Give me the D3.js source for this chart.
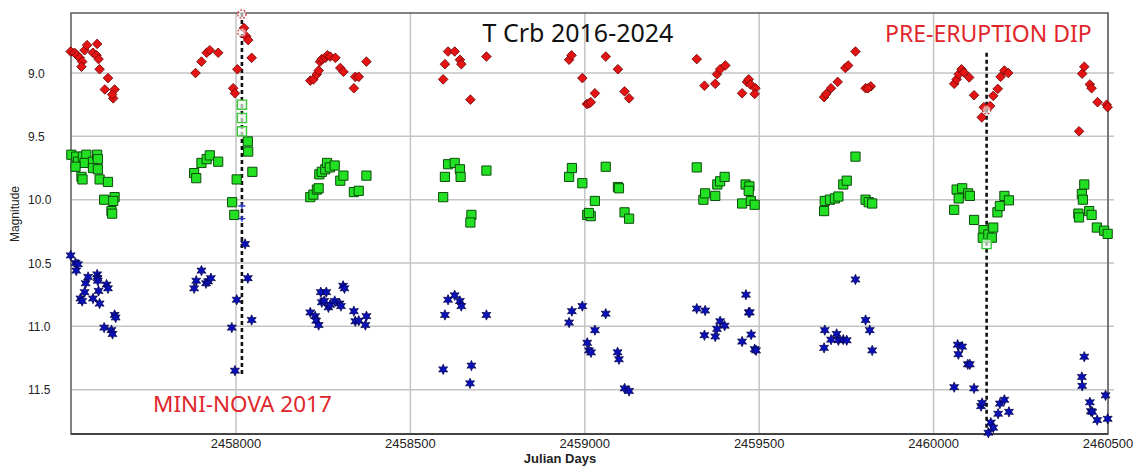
<!DOCTYPE html>
<html>
<head>
<meta charset="utf-8">
<script src="https://cdn.jsdelivr.net/npm/d3@7"></script>
<style>
  html, body { margin: 0; padding: 0; background: #fff; }
  svg { display: block; }
</style>
</head>
<body>
<svg id="chart" width="1135" height="466"></svg>
<script>
// T CrB light curves 2016-2024: [Julian Day, magnitude]
const bandR = [
  [2457526,8.83],[2457537,8.84],[2457544,8.86],[2457552,8.88],[2457559,8.91],[2457566,8.82],[2457573,8.78],[2457557,8.95],[2457590,8.84],[2457602,8.77],[2457600,8.86],[2457606,8.89],[2457609,8.97],[2457633,9.04],[2457624,9.13],[2457648,9.20],[2457652,9.13],[2457645,9.17],
  [2457884,9.00],[2457901,8.91],[2457916,8.84],[2457925,8.82],[2457949,8.84],[2457992,9.12],[2457997,9.16],[2458004,8.97],[2458023,8.645],[2458029,8.71],[2458035,8.74],[2458045,8.88],
  [2458213,9.06],[2458222,9.05],[2458232,9.01],[2458237,8.98],[2458241,8.91],[2458246,8.89],[2458256,8.88],[2458262,8.86],[2458270,8.87],[2458285,8.88],[2458299,8.96],[2458308,8.99],[2458342,9.03],[2458352,9.03],[2458338,9.12],[2458374,8.91],
  [2458594,9.05],[2458599,8.93],[2458608,8.83],[2458627,8.83],[2458642,8.895],[2458646,8.93],[2458672,9.21],[2458718,8.87],
  [2458955,8.895],[2458962,8.86],[2458993,9.04],[2459006,9.245],[2459012,9.24],[2459017,9.23],[2459029,9.16],[2459060,8.87],[2459095,8.97],[2459114,9.145],[2459127,9.20],
  [2459321,8.89],[2459343,9.10],[2459374,9.085],[2459379,9.01],[2459388,8.97],[2459403,8.94],[2459451,9.16],[2459465,9.07],[2459470,9.05],[2459475,9.09],[2459489,9.12],[2459487,9.165],
  [2459686,9.19],[2459692,9.165],[2459706,9.12],[2459725,9.07],[2459747,8.96],[2459755,8.94],[2459776,8.83],[2459805,9.12],[2459820,9.105],[2459812,9.12],
  [2460059,9.085],[2460066,9.05],[2460072,9.01],[2460080,8.97],[2460087,8.995],[2460102,9.035],[2460116,9.175],[2460138,9.35],[2460144,9.27],[2460162,9.26],[2460171,9.18],[2460184,9.125],[2460192,9.03],[2460203,8.98],[2460214,9.00],
  [2460417,9.46],[2460426,9.005],[2460432,8.95],[2460448,9.09],[2460453,9.12],[2460470,9.23],[2460496,9.25],[2460499,9.27]
];
const bandV = [
  [2457528,9.645],[2457542,9.66],[2457547,9.70],[2457561,9.66],[2457571,9.645],[2457566,9.71],[2457540,9.74],[2457557,9.82],[2457560,9.84],[2457590,9.70],[2457602,9.645],[2457604,9.68],[2457590,9.75],[2457604,9.76],[2457609,9.84],[2457633,9.86],[2457622,10.00],[2457652,9.98],[2457648,10.01],[2457643,10.09],[2457645,10.11],
  [2457880,9.79],[2457886,9.83],[2457901,9.71],[2457916,9.68],[2457925,9.65],[2457949,9.70],[2458002,9.84],[2457989,10.02],[2457995,10.12],[2458034,9.54],[2458035,9.62],[2458047,9.78],
  [2458213,9.98],[2458222,9.96],[2458232,9.92],[2458237,9.91],[2458239,9.80],[2458246,9.78],[2458256,9.76],[2458261,9.71],[2458269,9.745],[2458283,9.73],[2458299,9.85],[2458308,9.81],[2458338,9.94],[2458352,9.93],[2458374,9.81],
  [2458594,9.98],[2458599,9.82],[2458608,9.72],[2458627,9.71],[2458642,9.76],[2458644,9.82],[2458675,10.12],[2458672,10.18],[2458718,9.77],
  [2458955,9.82],[2458963,9.75],[2458993,9.87],[2459029,10.01],[2459007,10.12],[2459017,10.13],[2459012,10.105],[2459060,9.74],[2459095,9.90],[2459098,9.91],[2459114,10.10],[2459127,10.15],
  [2459321,9.745],[2459340,10.00],[2459345,9.95],[2459374,9.97],[2459380,9.88],[2459388,9.855],[2459401,9.82],[2459451,10.03],[2459461,9.88],[2459472,9.895],[2459470,9.93],[2459476,10.01],[2459487,10.04],
  [2459686,10.09],[2459688,10.01],[2459703,10.00],[2459717,9.99],[2459727,9.975],[2459741,9.88],[2459751,9.85],[2459776,9.66],[2459805,10.00],[2459814,10.02],[2459824,10.03],
  [2460059,10.08],[2460066,9.92],[2460072,9.99],[2460082,9.91],[2460099,9.95],[2460104,9.97],[2460116,10.16],[2460143,10.24],[2460141,10.30],[2460157,10.275],[2460167,10.30],[2460171,10.22],[2460183,10.10],[2460190,10.05],[2460203,9.97],[2460216,10.005],
  [2460415,10.11],[2460417,10.14],[2460425,9.955],[2460428,10.00],[2460432,9.88],[2460446,10.09],[2460453,10.12],[2460468,10.22],[2460489,10.245],[2460499,10.27]
];
const bandB = [
  [2457526,10.44],[2457540,10.50],[2457547,10.51],[2457542,10.56],[2457554,10.78],[2457559,10.80],[2457566,10.73],[2457569,10.66],[2457576,10.61],[2457590,10.78],[2457602,10.59],[2457603,10.62],[2457604,10.64],[2457606,10.72],[2457609,10.82],[2457622,11.01],[2457629,10.67],[2457633,10.70],[2457643,11.03],[2457646,11.06],[2457652,10.91],[2457655,10.93],
  [2457880,10.70],[2457886,10.64],[2457901,10.56],[2457914,10.66],[2457920,10.645],[2457928,10.62],[2457988,11.01],[2458002,10.79],[2457997,11.35],[2458034,10.62],[2458045,10.95],[2458026,10.35],
  [2458213,10.89],[2458227,10.92],[2458230,10.955],[2458237,10.99],[2458243,10.73],[2458259,10.73],[2458246,10.81],[2458253,10.80],[2458265,10.85],[2458270,10.83],[2458283,10.80],[2458297,10.82],[2458301,10.84],[2458307,10.68],[2458311,10.70],[2458338,10.88],[2458342,10.96],[2458352,10.955],[2458374,10.92],[2458371,10.99],
  [2458594,11.34],[2458599,10.91],[2458608,10.79],[2458627,10.755],[2458642,10.80],[2458646,10.84],[2458675,11.31],[2458671,11.45],[2458718,10.91],
  [2458955,10.97],[2458963,10.88],[2458993,10.84],[2459029,11.03],[2459007,11.13],[2459012,11.19],[2459018,11.205],[2459060,10.90],[2459094,11.205],[2459098,11.26],[2459114,11.49],[2459127,11.51],
  [2459321,10.86],[2459345,10.875],[2459343,11.07],[2459374,11.08],[2459379,11.02],[2459388,10.96],[2459401,10.995],[2459451,11.12],[2459462,10.75],[2459470,10.89],[2459473,10.89],[2459477,11.065],[2459487,11.18],[2459491,11.19],
  [2459688,11.03],[2459686,11.17],[2459706,11.105],[2459722,11.06],[2459727,11.11],[2459741,11.105],[2459751,11.11],[2459776,10.63],[2459805,10.95],[2459817,11.03],[2459824,11.19],
  [2460059,11.48],[2460069,11.145],[2460082,11.16],[2460071,11.22],[2460098,11.30],[2460104,11.30],[2460116,11.49],[2460136,11.63],[2460139,11.605],[2460157,11.84],[2460164,11.76],[2460171,11.80],[2460185,11.69],[2460190,11.61],[2460203,11.58],[2460216,11.675],
  [2460432,11.24],[2460425,11.40],[2460426,11.47],[2460448,11.60],[2460451,11.67],[2460455,11.675],[2460469,11.74],[2460493,11.545],[2460499,11.73]
];
// uncertain estimates, drawn as open markers
const openR = [[2458017,8.535],[2458017,8.68],[2460152,9.29]];
const openV = [[2458017,9.25],[2458017,9.355],[2458017,9.46],[2460152,10.35]];
const openB = [[2458017,10.05],[2458017,10.15]];

// event markers: mini-nova 2017 and the pre-eruption dip
const eventJD = [2458017, 2460152];
const eventTop = [8.526, 8.84];
const eventBottom = [11.38, 11.85];

const xTicks = [2458000, 2458500, 2459000, 2459500, 2460000, 2460500];
const yTicks = [9.0, 9.5, 10.0, 10.5, 11.0, 11.5];

const svg = d3.select("#chart");
const plotL = 71, plotR = 1108, plotT = 13, plotB = 434;

const x = d3.scaleLinear().domain([2457527, 2460500]).range([plotL, plotR]);
const y = d3.scaleLinear().domain([8.526, 11.85]).range([plotT, plotB]);

// grid
const grid = svg.append("g");
grid.selectAll("line.gx").data(xTicks).join("line")
  .attr("x1", d => x(d)).attr("x2", d => x(d))
  .attr("y1", plotT).attr("y2", plotB)
  .attr("stroke", "#c4c4c4").attr("stroke-width", 1.5);
grid.selectAll("line.gy").data(yTicks).join("line")
  .attr("x1", plotL).attr("x2", plotR + 6)
  .attr("y1", d => y(d)).attr("y2", d => y(d))
  .attr("stroke", "#c4c4c4").attr("stroke-width", 1.5);

// frame
svg.append("rect")
  .attr("x", plotL).attr("y", plotT)
  .attr("width", plotR - plotL).attr("height", plotB - plotT)
  .attr("fill", "none").attr("stroke", "#5a5a5a").attr("stroke-width", 1.5);
svg.append("line")
  .attr("x1", plotL).attr("x2", plotR).attr("y1", plotB).attr("y2", plotB)
  .attr("stroke", "#444").attr("stroke-width", 2.2);

// tick labels
svg.append("g").selectAll("text").data(yTicks).join("text")
  .attr("x", 28).attr("y", d => y(d) + 4.5)
  .attr("font-family", "Liberation Sans, Arial, sans-serif")
  .attr("font-size", 12).attr("fill", "#222")
  .text(d => d.toFixed(1));
svg.append("g").selectAll("text").data(xTicks).join("text")
  .attr("x", d => x(d)).attr("y", 448)
  .attr("text-anchor", "middle")
  .attr("font-family", "Liberation Sans, Arial, sans-serif")
  .attr("font-size", 13).attr("fill", "#222")
  .text(d => d);

// axis titles
svg.append("text")
  .attr("transform", "translate(19,214) rotate(-90)")
  .attr("text-anchor", "middle")
  .attr("font-family", "Liberation Sans, Arial, sans-serif")
  .attr("font-size", 12).attr("fill", "#222")
  .text("Magnitude");
svg.append("text")
  .attr("x", 560).attr("y", 463)
  .attr("text-anchor", "middle")
  .attr("font-family", "Liberation Sans, Arial, sans-serif")
  .attr("font-size", 13).attr("font-weight", "bold").attr("fill", "#222")
  .text("Julian Days");

// event lines
svg.append("g").selectAll("line").data(eventJD).join("line")
  .attr("x1", d => x(d)).attr("x2", d => x(d))
  .attr("y1", (d, i) => y(eventTop[i])).attr("y2", (d, i) => y(eventBottom[i]))
  .attr("stroke", "#111").attr("stroke-width", 2.6)
  .attr("stroke-dasharray", "4,3");

// marker shapes
const diamond = "M0,-4.8L4.8,0L0,4.8L-4.8,0Z";
const square = "M-4.6,-4.6H4.6V4.6H-4.6Z";
function starPath(ro, ri) {
  const pts = [];
  for (let k = 0; k < 12; k++) {
    const a = k * Math.PI / 6 - Math.PI / 2;
    const r = k % 2 === 0 ? ro : ri;
    pts.push([r * Math.cos(a), r * Math.sin(a)]);
  }
  return "M" + pts.map(p => p[0].toFixed(2) + "," + p[1].toFixed(2)).join("L") + "Z";
}
const star = starPath(5.2, 2.6);

const marks = svg.append("g");
marks.selectAll("path.b").data(bandB).join("path")
  .attr("class", "b").attr("d", star)
  .attr("transform", d => `translate(${x(d[0])},${y(d[1])})`)
  .attr("fill", "#0a10b8").attr("stroke", "#000040").attr("stroke-width", 0.7);
marks.selectAll("path.v").data(bandV).join("path")
  .attr("class", "v").attr("d", square)
  .attr("transform", d => `translate(${x(d[0])},${y(d[1])})`)
  .attr("fill", "#22e022").attr("stroke", "#0b4d0b").attr("stroke-width", 1);
marks.selectAll("path.r").data(bandR).join("path")
  .attr("class", "r").attr("d", diamond)
  .attr("transform", d => `translate(${x(d[0])},${y(d[1])})`)
  .attr("fill", "#e41414").attr("stroke", "#6a0000").attr("stroke-width", 0.8);

// open markers
marks.selectAll("circle.or").data(openR).join("circle")
  .attr("class", "or")
  .attr("cx", d => x(d[0])).attr("cy", d => y(d[1])).attr("r", 4.2)
  .attr("fill", "rgba(255,255,255,0.6)").attr("stroke", "#d03030")
  .attr("stroke-width", 1.2).attr("stroke-dasharray", "2,1.5");
marks.selectAll("path.ov").data(openV).join("path")
  .attr("class", "ov").attr("d", square)
  .attr("transform", d => `translate(${x(d[0])},${y(d[1])})`)
  .attr("fill", "rgba(235,250,235,0.7)").attr("stroke", "#3cc83c").attr("stroke-width", 1.4);
marks.selectAll("path.ob").data(openB).join("path")
  .attr("class", "ob").attr("d", "M-3.5,0H3.5M0,-3V3")
  .attr("transform", d => `translate(${x(d[0])},${y(d[1])})`)
  .attr("fill", "none").attr("stroke", "#2a3ad0").attr("stroke-width", 1.3);

// annotations
svg.append("text")
  .attr("x", 578).attr("y", 42).attr("text-anchor", "middle")
  .attr("font-family", "Noto Sans, Open Sans, sans-serif")
  .attr("font-size", 25).attr("fill", "#111")
  .text("T Crb 2016-2024");
svg.append("text")
  .attr("x", 885).attr("y", 41.5)
  .attr("font-family", "Noto Sans, Open Sans, sans-serif")
  .attr("font-size", 23).attr("fill", "#e0262a")
  .text("PRE-ERUPTION DIP");
svg.append("text")
  .attr("x", 153).attr("y", 411.5)
  .attr("font-family", "Noto Sans, Open Sans, sans-serif")
  .attr("font-size", 22.5).attr("fill", "#e0262a")
  .text("MINI-NOVA 2017");
</script>
</body>
</html>
